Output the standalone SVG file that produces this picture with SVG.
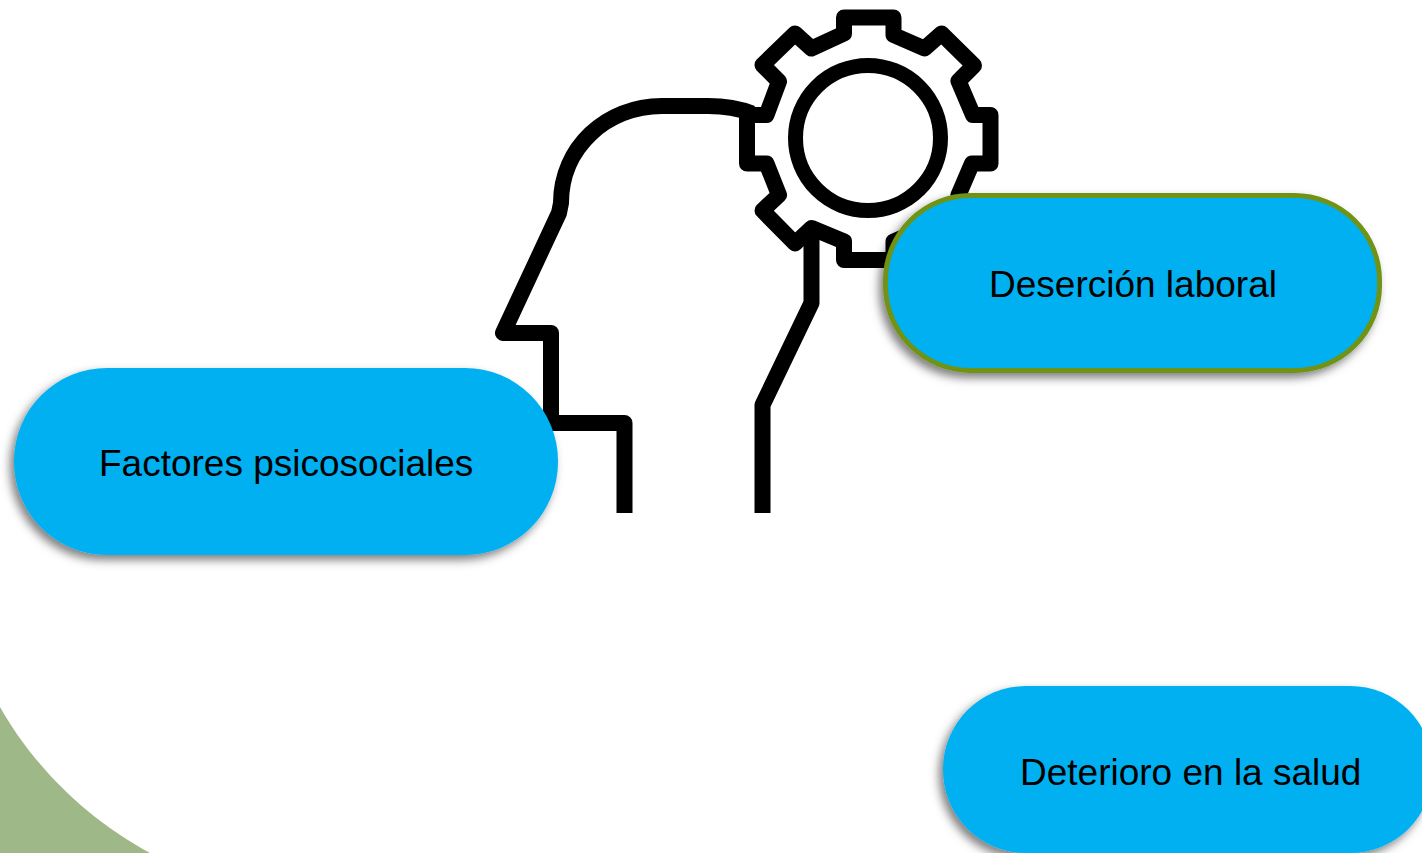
<svg xmlns="http://www.w3.org/2000/svg" width="1422" height="853" viewBox="0 0 1422 853">
  <style>
    .pill { fill: #00B0F0; filter: url(#sh); }
    .label { font-family: "Liberation Sans", Arial, sans-serif; font-size: 37px; fill: #000; }
    .icon { fill: none; stroke: #000; stroke-width: 16; stroke-linejoin: round; stroke-linecap: butt; }
    .ring { stroke-width: 15; }
  </style>
  <defs>
    <filter id="sh" x="-10%" y="-15%" width="120%" height="135%">
      <feDropShadow dx="-4" dy="5" stdDeviation="5" flood-color="#000" flood-opacity="0.5"/>
    </filter>
  </defs>
  <rect width="1422" height="853" fill="#fff"/>
  <path id="corner" d="M0 707 C30 760 80 815 150 853 L0 853 Z" fill="#9FB888"/>
  <g id="icon">
    <circle class="icon ring" cx="868" cy="138" r="72.5"/>
    <path class="icon" d="M844 33.5 V17.5 H893.5 V35 L924.5 48.5 L941.5 33.5 L974 65.5 L958.5 81 L973 115 H990.5 V163.5 H972 L958.5 195 L974 210.5 L941.5 243.5 L924.5 228 L893.5 241.5 V260 H844 V241.5 L811.5 228 L795 243.5 L762.5 210.5 L779 195 L766.5 163.5 H747 V115 H766.5 L779 81.5 L762.5 65 L795 33.5 L811.5 48.5 Z"/>
    <path class="icon" d="M752 113.5 C738 108 726 106 708 106 H662 C606 106 561 148 561 203 L559 213 L503 333 H551 V423 H624.5 V513"/>
    <path class="icon" d="M811.5 228 V303 L762.5 405 V513"/>
  </g>
  <g id="connectors"/>
  <g id="node-factores">
    <rect class="pill" x="14" y="368" width="544" height="187" rx="93" ry="93"/>
    <text class="label" x="99" y="476">Factores psicosociales</text>
  </g>
  <g id="node-desercion">
    <rect class="pill" x="885.5" y="195.5" width="494" height="175" rx="85" ry="85" stroke="#6F9318" stroke-width="5"/>
    <text class="label" x="989" y="297">Deserción laboral</text>
  </g>
  <g id="node-deterioro">
    <rect class="pill" x="943" y="686" width="490" height="167" rx="83" ry="83"/>
    <text class="label" x="1020" y="785">Deterioro en la salud</text>
  </g>
</svg>
